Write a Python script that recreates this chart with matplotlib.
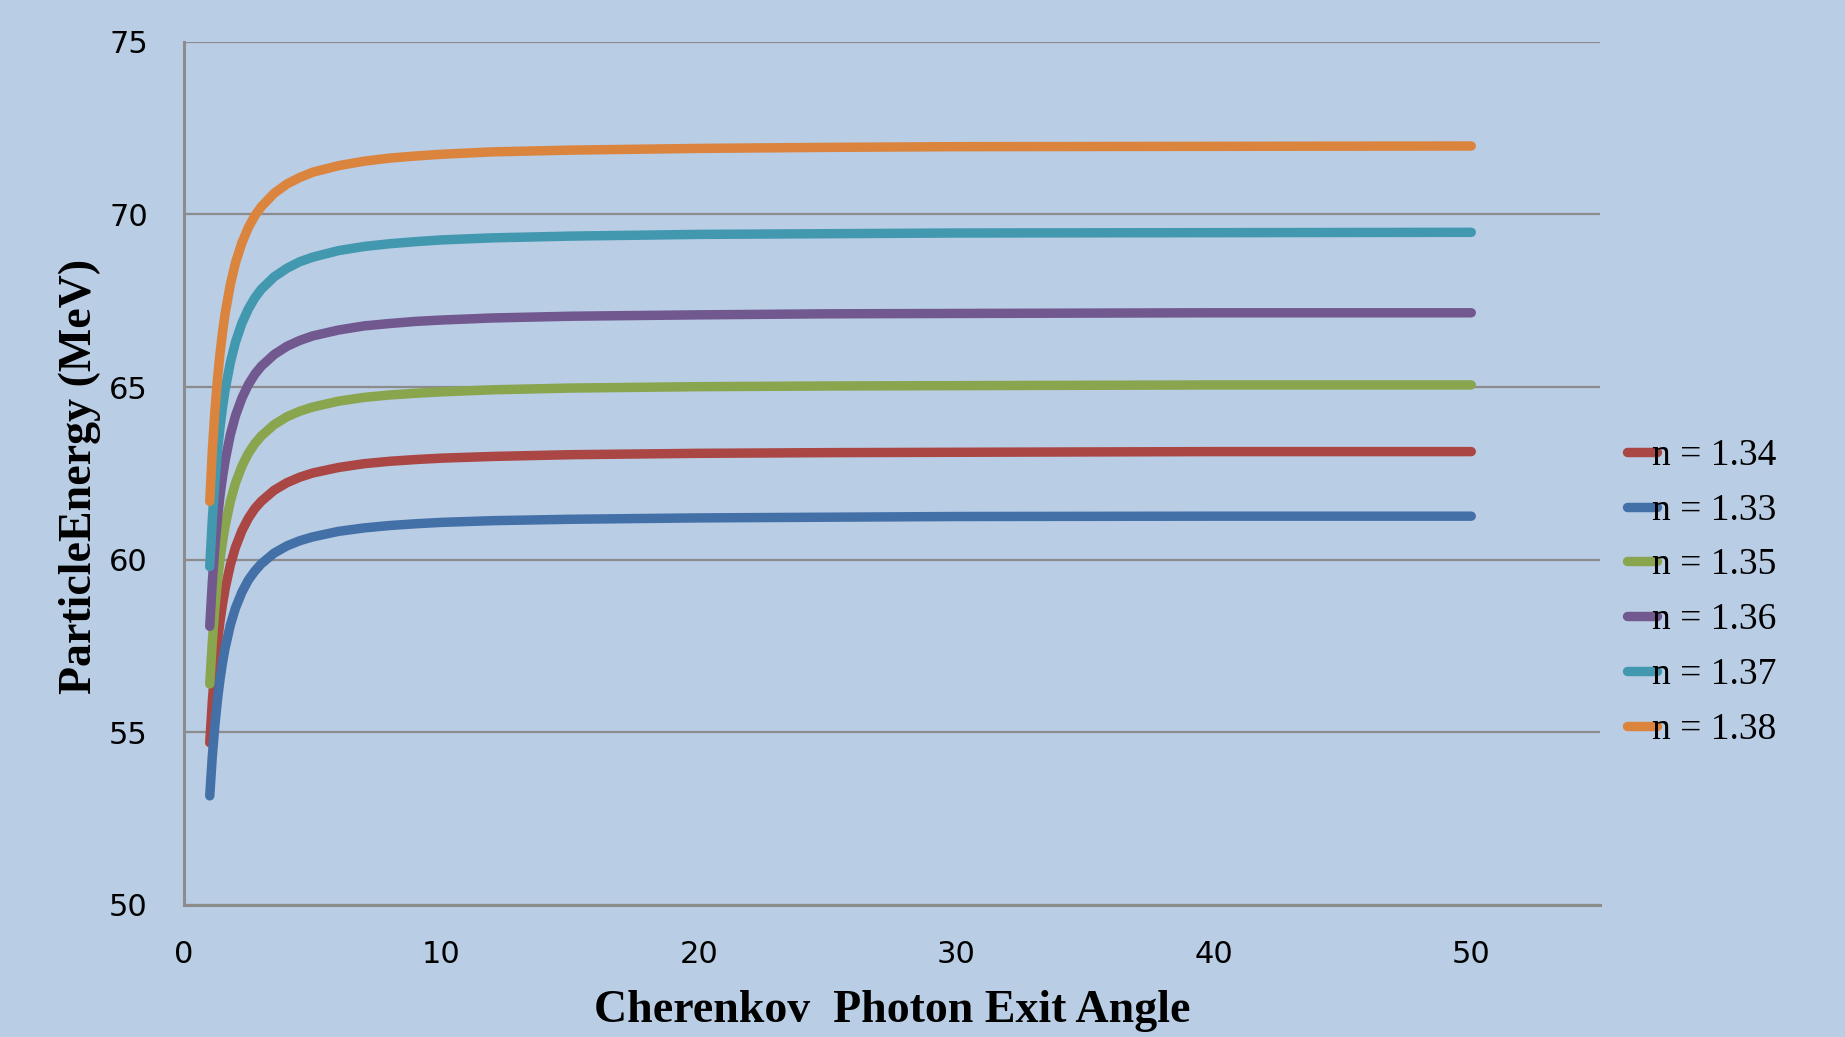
import matplotlib
matplotlib.use("Agg")
import matplotlib.pyplot as plt
from matplotlib.font_manager import FontProperties

# Cherenkov photon exit angle (degrees)
angle = [1, 1.1, 1.2, 1.3, 1.4, 1.5, 1.6, 1.8, 2, 2.25, 2.5, 2.75, 3, 3.5, 4,
         4.5, 5, 6, 7, 8, 9, 10, 12, 15, 20, 25, 30, 40, 50]

# Particle energy (MeV) for each refractive index
e_134 = [54.70, 55.90, 56.84, 57.60, 58.22, 58.73, 59.17, 59.85, 60.36, 60.84,
         61.20, 61.48, 61.69, 62.01, 62.23, 62.39, 62.51, 62.67, 62.78, 62.85,
         62.90, 62.94, 62.99, 63.04, 63.08, 63.10, 63.11, 63.13, 63.13]
e_133 = [53.16, 54.31, 55.21, 55.94, 56.54, 57.04, 57.45, 58.11, 58.60, 59.06,
         59.41, 59.67, 59.88, 60.19, 60.40, 60.55, 60.66, 60.82, 60.92, 60.99,
         61.04, 61.08, 61.13, 61.17, 61.21, 61.23, 61.25, 61.26, 61.26]
e_135 = [56.40, 57.63, 58.60, 59.38, 60.01, 60.54, 60.99, 61.69, 62.22, 62.71,
         63.08, 63.36, 63.58, 63.91, 64.14, 64.30, 64.42, 64.59, 64.70, 64.77,
         64.82, 64.86, 64.92, 64.97, 65.01, 65.03, 65.04, 65.06, 65.06]
e_136 = [58.07, 59.36, 60.37, 61.19, 61.86, 62.41, 62.88, 63.62, 64.17, 64.68,
         65.07, 65.37, 65.60, 65.94, 66.18, 66.35, 66.48, 66.65, 66.77, 66.84,
         66.90, 66.94, 67.00, 67.05, 67.09, 67.12, 67.13, 67.15, 67.15]
e_137 = [59.80, 61.17, 62.25, 63.13, 63.84, 64.43, 64.93, 65.71, 66.30, 66.85,
         67.26, 67.58, 67.83, 68.19, 68.44, 68.63, 68.76, 68.95, 69.07, 69.15,
         69.21, 69.26, 69.32, 69.37, 69.42, 69.44, 69.46, 69.47, 69.48]
e_138 = [61.69, 63.15, 64.30, 65.22, 65.98, 66.61, 67.14, 67.97, 68.60, 69.18,
         69.62, 69.96, 70.22, 70.61, 70.88, 71.07, 71.22, 71.41, 71.54, 71.63,
         71.69, 71.74, 71.81, 71.86, 71.91, 71.94, 71.96, 71.97, 71.98]

series_labels = ["n = 1.34", "n = 1.33", "n = 1.35", "n = 1.36", "n = 1.37", "n = 1.38"]
series_values = [e_134, e_133, e_135, e_136, e_137, e_138]
series_colors = ["#AA4643", "#4470A8", "#89A54E", "#71588F", "#4198AF", "#DB843D"]

x_ticks = [0, 10, 20, 30, 40, 50]
y_ticks = [50, 55, 60, 65, 70, 75]

bg = "#B9CDE5"
grid_color = "#8C8C8C"

fig = plt.figure(figsize=(18.45, 10.37), dpi=100, facecolor=bg)
ax = fig.add_axes([184 / 1845, 1 - 905 / 1037, (1600 - 184) / 1845, (905 - 41.7) / 1037])
ax.set_facecolor(bg)

# draw order: lower curves first, orange on top
handles = {}
for label, vals, col in zip(series_labels, series_values, series_colors):
    (ln,) = ax.plot(angle, vals, color=col, lw=6.8, solid_capstyle="round",
                    solid_joinstyle="round", zorder=3)
    handles[label] = ln

ax.set_xlim(0, 55)
ax.set_ylim(50, 75)
ax.set_xticks(x_ticks)
ax.set_yticks(y_ticks)
ax.yaxis.grid(True, color=grid_color, lw=1.6)
ax.xaxis.grid(False)
ax.set_axisbelow(True)

for side in ("top", "right"):
    ax.spines[side].set_visible(False)
for side in ("left", "bottom"):
    ax.spines[side].set_color(grid_color)
    ax.spines[side].set_linewidth(2.2)

ax.tick_params(axis="both", length=0, labelsize=22, colors="black")
ax.tick_params(axis="y", pad=26)
ax.tick_params(axis="x", pad=25)
for t in ax.get_xticklabels() + ax.get_yticklabels():
    t.set_fontfamily("DejaVu Sans")

label_font = FontProperties(family="Liberation Serif", weight="bold", size=33)
fig.text(892 / 1845, 1 - 1022 / 1037, "Cherenkov  Photon Exit Angle",
         fontproperties=label_font, ha="center", va="baseline")
fig.text(80 / 1845, 1 - 476 / 1037, "ParticleEnergy (MeV)",
         fontproperties=label_font, ha="center", va="center", rotation=90)

legend_font = FontProperties(family="Liberation Serif", size=27)
ax.legend([handles[l] for l in series_labels], series_labels,
          loc="center left", bbox_to_anchor=(1627 / 1845, 1 - 592.5 / 1037),
          bbox_transform=fig.transFigure, frameon=False, prop=legend_font,
          handlelength=0.8, handletextpad=-0.12, labelspacing=0.54,
          borderpad=0, borderaxespad=0)

fig.savefig("out.png", dpi=100, facecolor=bg)
